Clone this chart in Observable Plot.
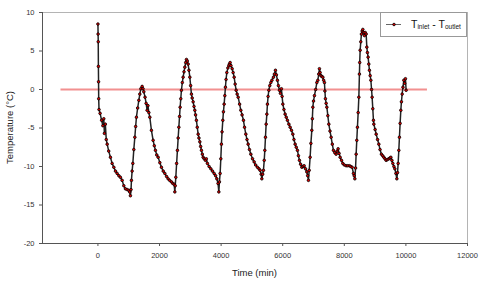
<!DOCTYPE html>
<html>
<head>
<meta charset="utf-8">
<script src="https://cdn.jsdelivr.net/npm/d3@7"></script>
<script src="https://cdn.jsdelivr.net/npm/@observablehq/plot@0.6"></script>
<style>
  html, body { margin: 0; padding: 0; background: #fff; }
  #chart { width: 480px; height: 283px; }
</style>
</head>
<body>
<div id="chart"></div>
<script>
// Time (min)
const times = [
  0,5,10,15,20,25,35,70,120,160,190,210,240,270,300,350,406,460,516,570,623,680,730,786,840,893,950,1003,1030,1055,
  1075,1088,1110,1133,1165,1198,1225,1250,1290,1328,1360,1393,1435,1465,1490,1530,1565,1597,1625,1653,
  1685,1737,1792,1830,1867,1910,1955,2010,2062,2120,2172,2230,2279,2330,2387,2430,2474,2497,2510,2529,
  2555,2581,2605,2627,2650,2669,2690,2711,2740,2766,2795,2822,2850,2874,2900,2929,2955,2984,3010,3036,
  3060,3091,3120,3146,3170,3198,3225,3254,3280,3309,3335,3361,3390,3416,3450,3491,3520,3555,3610,3666,
  3720,3773,3820,3861,3900,3926,3945,3968,3990,4010,4030,4055,4075,4098,4120,4140,4160,4185,4220,4250,
  4270,4293,4320,4358,4390,4423,4455,4488,4520,4553,4600,4640,4680,4725,4760,4802,4840,4877,4920,4965,
  5020,5072,5120,5179,5230,5267,5300,5322,5350,5374,5400,5419,5440,5462,5485,5504,5525,5549,5580,5614,
  5650,5699,5730,5764,5795,5828,5860,5893,5925,5958,5980,6004,6040,6078,6115,6153,6200,6241,6285,6329,
  6365,6403,6440,6478,6510,6543,6580,6621,6660,6696,6740,6783,6810,6835,6860,6890,6915,6945,6962,6978,
  7000,7030,7070,7108,7140,7170,7192,7215,7238,7270,7303,7330,7355,7370,7387,7410,7433,7465,7497,7535,
  7572,7610,7647,7690,7734,7765,7799,7830,7864,7910,7952,8000,8059,8110,8166,8210,8254,8296,8320,8342,
  8365,8384,8405,8426,8450,8472,8491,8500,8514,8535,8556,8580,8602,8630,8653,8680,8709,8731,8750,8773,
  8795,8816,8840,8862,8885,8903,8925,8946,8959,9000,9034,9080,9121,9160,9205,9245,9283,9320,9358,9400,
  9446,9480,9511,9545,9576,9610,9641,9675,9706,9728,9748,9770,9790,9812,9835,9855,9878,9905,9933,9960,
  9985,10007
];
// T inlet - T outlet (°C)
const temps = [
  8.5,7.2,6.2,3.0,1.0,-1.2,-2.6,-3.1,-4.0,-4.7,-3.8,-5.7,-4.5,-6.5,-7.1,-8.0,-8.8,-9.6,-10.1,-10.6,-10.9,-11.2,-11.4,-11.8,-12.5,-12.9,-13.0,-13.1,-13.3,-13.8,
  -13.0,-11.8,-10.6,-9.6,-7.8,-6.2,-4.8,-3.6,-2.4,-1.4,-0.6,0.1,0.4,0.1,-0.3,-1.0,-1.8,-2.7,-2.1,-3.0,
  -3.6,-5.3,-6.6,-7.3,-7.9,-8.5,-8.8,-9.5,-10.1,-10.6,-10.9,-11.3,-11.6,-11.8,-12.0,-12.2,-12.3,-13.3,-12.5,-11.4,
  -9.6,-7.9,-6.3,-4.9,-3.5,-2.3,-1.2,-0.1,0.9,1.6,2.3,2.9,3.5,3.9,3.7,3.3,2.5,1.6,0.5,-0.6,
  -1.1,-1.6,-2.2,-2.7,-3.3,-4.0,-4.9,-5.8,-6.3,-6.8,-7.4,-7.9,-8.4,-8.8,-9.0,-9.2,-9.0,-9.6,-10.0,-10.3,
  -10.6,-10.9,-11.2,-11.6,-12.2,-13.3,-12.0,-10.9,-9.0,-7.1,-5.5,-4.0,-2.9,-1.9,-0.8,0.3,1.3,2.2,2.8,3.1,
  3.3,3.5,3.1,2.7,2.2,1.6,0.7,-0.1,-0.6,-1.0,-1.9,-2.7,-3.3,-4.0,-4.9,-5.8,-6.5,-7.1,-7.8,-8.4,
  -9.0,-9.4,-9.8,-10.1,-10.3,-10.5,-11.0,-11.6,-11.0,-10.5,-9.2,-7.9,-6.2,-4.5,-3.2,-1.9,-0.9,-0.1,0.5,0.9,
  1.2,1.6,2.0,2.5,1.9,1.2,0.5,-0.1,-0.5,0.1,-0.9,-1.9,-2.6,-3.2,-3.6,-4.0,-4.5,-4.9,-5.3,-5.8,
  -6.5,-7.1,-7.5,-7.9,-8.6,-9.2,-9.7,-10.1,-10.0,-9.9,-10.3,-10.7,-11.2,-11.8,-10.5,-8.8,-7.0,-5.3,-3.8,-2.3,
  -1.5,-0.8,0.0,0.9,1.2,2.0,2.7,2.2,1.8,1.7,1.6,1.2,0.9,-0.2,-1.2,-1.8,-2.3,-3.4,-4.5,-5.4,
  -6.2,-7.1,-7.9,-8.2,-8.4,-8.0,-7.7,-8.3,-8.8,-9.2,-9.6,-9.8,-9.9,-9.9,-9.9,-10.0,-10.1,-10.9,-11.2,-11.6,
  -10.2,-8.4,-6.6,-4.9,-3.0,-1.0,2.0,3.5,5.1,6.2,7.2,7.6,7.8,7.4,7.0,7.4,7.2,5.5,4.8,4.2,
  3.3,2.5,1.8,1.2,0.0,-1.0,-2.5,-4.0,-4.5,-5.2,-5.8,-6.5,-7.1,-7.8,-8.4,-8.6,-8.8,-9.0,-9.2,-9.1,
  -9.0,-8.9,-8.8,-9.2,-9.6,-10.0,-10.3,-10.9,-11.6,-10.8,-9.6,-7.9,-6.2,-4.4,-2.7,-1.6,-0.6,0.3,1.2,0.8,
  1.4,-0.1
];
const xTicks = [0, 2000, 4000, 6000, 8000, 10000, 12000];
const yTicks = [10, 5, 0, -5, -10, -15, -20];
const refLines = [{ value: 0, from: -1200, to: 10700 }];
const xLabel = "Time (min)";
const yLabel = "Temperature (°C)";
const legendParts = ["T", "inlet", " - T", "outlet"];

const data = times.map((t, i) => ({ t, v: temps[i] }));

const W = 480, H = 283, mL = 42, mR = 13, mT = 12, mB = 40;

const chart = Plot.plot({
  width: W, height: H,
  marginLeft: mL, marginRight: mR, marginTop: mT, marginBottom: mB,
  x: { domain: [-1800, 12000] },
  y: { domain: [-20, 10] },
  style: { fontFamily: "Liberation Sans, Arial, sans-serif", fontSize: "7.5px", color: "#333", background: "#fff" },
  marks: [
    Plot.frame({ stroke: "#b4b4b4", strokeWidth: 1 }),
    Plot.ruleY(refLines, { y: "value", x1: "from", x2: "to", stroke: "#f29090", strokeWidth: 1.8 }),
    Plot.line(data, { x: "t", y: "v", stroke: "#222", strokeWidth: 1.5 }),
    Plot.dot(data, { x: "t", y: "v", r: 1.3, fill: "#e00000", stroke: "#000", strokeWidth: 0.8 }),
    Plot.axisX({ ticks: xTicks, tickFormat: d => String(d), tickSize: 3, tickPadding: 6, label: null, stroke: "#555", fill: "#333" }),
    Plot.axisY({ ticks: yTicks, tickFormat: d => String(d), tickSize: 3, tickPadding: 5, label: null, stroke: "#555", fill: "#333" }),
    Plot.ruleX([-1800], { stroke: "#555" }),
    Plot.ruleY([-20], { stroke: "#555" })
  ]
});
document.getElementById("chart").appendChild(chart);

const svg = d3.select(chart);
// axis titles
svg.append("text")
  .attr("x", (mL + W - mR) / 2).attr("y", 276)
  .attr("text-anchor", "middle")
  .attr("font-size", "9.5px").attr("fill", "#222")
  .text(xLabel);
svg.append("text")
  .attr("transform", `translate(12.5,${(mT + H - mB) / 2}) rotate(-90)`)
  .attr("text-anchor", "middle")
  .attr("font-size", "9.5px").attr("fill", "#222")
  .text(yLabel);

// legend
const lg = svg.append("g");
lg.append("rect").attr("x", 380.5).attr("y", 12.5).attr("width", 86).attr("height", 24)
  .attr("fill", "#fff").attr("stroke", "#999").attr("stroke-width", 1);
lg.append("line").attr("x1", 386).attr("x2", 401).attr("y1", 24.5).attr("y2", 24.5)
  .attr("stroke", "#555").attr("stroke-width", 0.9);
lg.append("circle").attr("cx", 394).attr("cy", 24.5).attr("r", 1.3)
  .attr("fill", "#e00000").attr("stroke", "#000").attr("stroke-width", 0.8);
const lt = lg.append("text").attr("x", 411).attr("y", 27.5)
  .attr("text-anchor", "start")
  .attr("font-size", "10.5px").attr("fill", "#111");
lt.append("tspan").text(legendParts[0]);
lt.append("tspan").attr("font-size", "6.5px").attr("dy", 1.5).text(legendParts[1]);
lt.append("tspan").attr("dy", -1.5).text(legendParts[2]);
lt.append("tspan").attr("font-size", "6.5px").attr("dy", 1.5).text(legendParts[3]);
</script>
</body>
</html>
